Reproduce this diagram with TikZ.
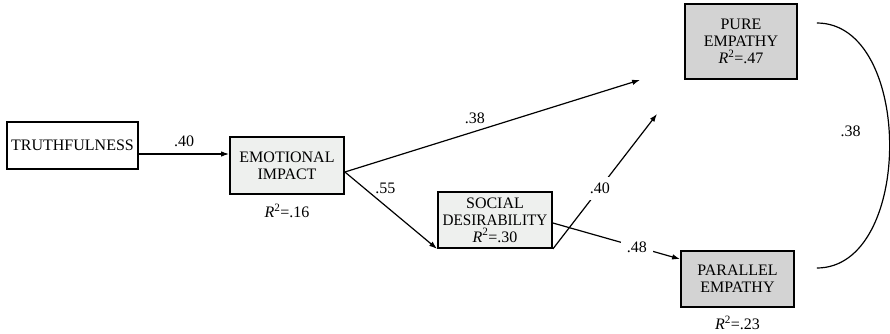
\documentclass[tikz,border=0pt]{standalone}
\usepackage{fontspec}
\setmainfont{Liberation Serif}
\usepackage{tikz}
\usetikzlibrary{positioning, arrows.meta}
\definecolor{lightgr}{RGB}{238,240,238}
\definecolor{darkgr}{RGB}{211,211,211}
\tikzstyle{block}=[draw,line width=1.8pt,rectangle,inner sep=0pt,align=center]
\tikzstyle{every node}=[font=\fontsize{16}{17}\selectfont]
\tikzstyle{coef}=[inner sep=1pt]
\tikzstyle{cut}=[fill=white,inner sep=6pt]

\begin{document}
\begin{tikzpicture}[>={Latex[length=8pt,width=5.5pt]}, line width=1.2pt, node distance=1cm]
            \useasboundingbox (0,0) rectangle (890pt,-334pt);
            \node[block, minimum width=131pt, minimum height=47pt] (truth) at (72.5pt,-145.5pt) {TRUTHFULNESS};
            \node[block, fill=lightgr, minimum width=114pt, minimum height=57pt, right of=truth, node distance=214.5pt, yshift=-20pt] (emo) {EMOTIONAL\\IMPACT};
            \node[below of=emo, node distance=45.5pt] (emor) {\textit{R}\textsuperscript{2}=.16};
            \node[block, fill=lightgr, minimum width=114pt, minimum height=56pt, right of=emo, node distance=208pt, yshift=-54.5pt] (soc) {SOCIAL\\\scalebox{.95}[1]{DESIRABILITY}\\\textit{R}\textsuperscript{2}=.30};
            \node[block, fill=darkgr, minimum width=112pt, minimum height=75pt, right of=soc, node distance=246pt, yshift=178.5pt] (pure) {PURE\\EMPATHY\\\textit{R}\textsuperscript{2}=.47};
            \node[block, fill=darkgr, minimum width=113pt, minimum height=56pt, right of=soc, node distance=242.5pt, yshift=-59pt] (par) {PARALLEL\\EMPATHY};
            \node[below of=par, node distance=44pt] (parr) {\textit{R}\textsuperscript{2}=.23};
            % free ends of the arrows into pure empathy
            \coordinate (pureL) at ([xshift=-44pt]pure.south west);
            \coordinate (pureM) at ([xshift=-27pt,yshift=-34pt]pure.south west);
            \coordinate (corA) at ([xshift=19pt,yshift=18.5pt]pure.east);
            \coordinate (corB) at ([xshift=22pt,yshift=11pt]par.east);
            \draw[->] ([yshift=-8.5pt]truth.east) -- node[coef, above=5.5pt] {.40} ([yshift=11.5pt]emo.west);
            \draw[->] ([yshift=-6.5pt]emo.east) -- node[coef, pos=.44, above=6.5pt] {.38} (pureL);
            \draw[->] ([yshift=-6.5pt]emo.east) -- node[coef, pos=.44, above=10.5pt] {.55} (soc.south west);
            \draw[->] (soc.south east) -- node[cut, pos=.45] {.40} (pureM);
            \draw[->] ([yshift=-3pt]soc.east) -- node[cut, pos=.66] {.48} ([yshift=-9pt]par.north west);
            \draw (corA) .. controls +(97pt,0) and +(97pt,0) .. node[coef, pos=.46, left=27pt] {.38} (corB);
        \end{tikzpicture}
\end{document}
